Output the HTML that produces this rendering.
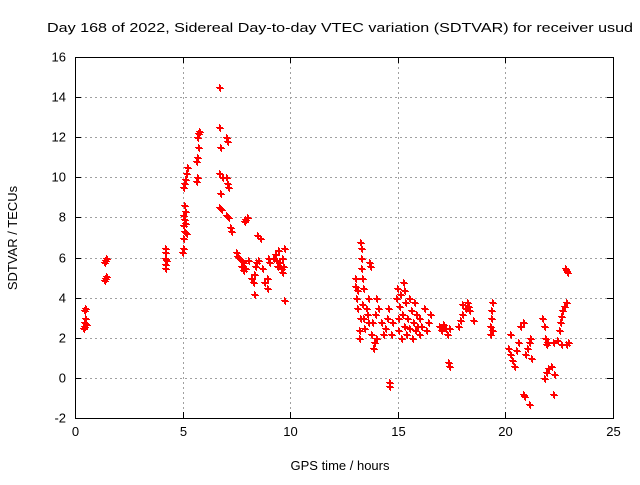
<!DOCTYPE html>
<html><head><meta charset="utf-8"><style>
body{margin:0;background:#fff}
svg text{font-family:"Liberation Sans",sans-serif;font-size:13px;fill:#000}
</style></head><body>
<svg id="chart" width="640" height="480" xmlns="http://www.w3.org/2000/svg">
<rect width="640" height="480" fill="#fff"/>
<text x="47" y="32" textLength="586" lengthAdjust="spacingAndGlyphs">Day 168 of 2022, Sidereal Day-to-day VTEC variation (SDTVAR) for receiver usud</text>
<text x="340" y="470" text-anchor="middle">GPS time / hours</text>
<text transform="translate(17,238) rotate(-90)" text-anchor="middle">SDTVAR / TECUs</text>
<g id="grid"></g><g id="axes"></g><g id="marks"></g>
</svg>
<script>
const xTicks=[0,5,10,15,20,25];
const yTicks=[-2,0,2,4,6,8,10,12,14,16];
const xs=[0.35,0.4,0.4,0.45,0.4,0.45,0.5,1.35,1.4,1.45,1.35,1.4,1.45,4.2,4.2,4.2,4.2,4.2,4.25,
4.95,5.0,5.0,5.05,5.0,5.05,5.0,5.1,5.05,5.0,5.05,5.1,5.15,5.2,5.1,5.15,
5.6,5.65,5.6,5.65,5.7,5.65,5.7,5.75,6.7,6.7,6.75,6.7,6.75,6.7,6.8,6.85,
7.0,7.05,7.0,7.05,7.1,7.0,7.1,7.2,7.25,7.5,7.55,7.6,7.7,7.8,7.7,7.8,7.9,7.9,8.0,7.85,8.05,
8.2,8.25,8.3,8.3,8.35,8.4,8.5,8.45,8.6,8.7,8.8,8.9,8.9,8.95,9.0,
9.2,9.3,9.35,9.4,9.45,9.5,9.55,9.6,9.6,9.7,9.7,9.65,
13.0,13.0,13.05,13.1,13.1,13.2,13.2,13.25,13.25,13.3,13.3,13.3,13.35,13.4,13.35,13.4,13.45,
13.5,13.55,13.6,13.6,13.65,13.7,13.75,13.8,13.85,13.9,13.95,14.0,14.0,14.1,14.2,14.3,14.4,14.5,14.55,14.6,14.6,14.7,14.75,
14.9,14.95,15.0,15.0,15.05,15.1,15.15,15.2,15.25,15.3,15.3,15.35,15.4,15.45,15.5,15.5,15.6,15.65,15.7,15.75,15.8,15.85,15.9,16.0,16.0,16.1,16.2,16.3,16.4,16.5,
16.9,17.0,17.1,17.2,17.3,17.4,17.35,17.4,17.8,17.9,18.0,18.1,18.2,18.25,18.3,18.0,18.5,
19.3,19.3,19.35,19.35,19.4,19.4,
20.1,20.2,20.2,20.3,20.4,20.5,20.6,20.7,20.8,20.8,20.85,20.9,21.0,21.1,21.15,21.1,21.2,
21.7,21.8,21.85,21.9,21.95,21.8,21.9,22.0,22.1,22.2,22.25,22.2,
22.4,22.5,22.55,22.6,22.65,22.7,22.8,22.6,22.8,22.9,22.75,22.8,22.85];
const ys=[2.5,2.6,2.8,3.0,3.4,3.5,2.7,4.9,5.0,5.1,5.8,5.9,6.0,5.5,5.7,6.0,6.3,6.5,5.9,
6.3,6.5,7.0,7.3,7.6,7.9,8.1,8.3,8.6,9.5,9.7,9.9,10.2,10.5,7.7,7.2,
9.8,10.0,10.8,11.0,11.5,12.0,12.2,12.3,14.5,12.5,11.5,10.2,9.2,8.5,8.4,10.0,
12.0,11.8,10.0,9.7,9.5,8.1,8.0,7.5,7.3,6.3,6.1,6.0,5.9,5.8,5.6,5.4,5.5,7.9,8.0,7.8,5.9,
5.0,4.8,5.2,4.2,5.6,5.8,5.9,7.1,7.0,5.5,4.8,4.5,5.0,6.0,5.8,
6.0,6.2,5.9,5.6,6.4,5.8,5.5,5.3,6.0,6.5,3.9,5.6,
5.0,4.6,4.0,4.4,3.5,2.4,2.0,3.0,6.8,6.5,6.0,5.5,5.0,4.5,3.7,3.0,2.5,
3.5,3.2,2.8,4.0,5.8,5.6,2.2,2.8,1.5,1.8,3.2,4.0,2.0,3.5,2.8,2.2,2.5,3.0,3.5,-0.2,-0.4,2.2,2.8,
4.0,4.5,3.0,2.4,3.6,4.2,2.0,3.2,4.8,4.4,2.6,3.8,2.2,3.0,4.0,2.5,3.4,2.0,2.8,3.8,2.4,3.2,2.6,3.0,2.2,2.6,3.5,2.4,2.8,3.2,
2.6,2.4,2.7,2.5,2.2,2.5,0.8,0.6,2.6,2.9,3.2,3.5,3.8,3.6,3.4,3.7,2.9,
2.2,2.6,3.0,3.4,3.8,2.4,
1.5,1.2,2.2,0.9,0.6,1.4,1.8,2.6,2.8,-0.8,-0.9,1.2,1.5,1.8,2.0,-1.3,1.0,
3.0,2.6,2.0,1.7,1.8,0.0,0.3,0.5,0.6,-0.8,0.2,1.8,
1.9,2.4,2.8,3.1,3.4,3.6,3.8,1.7,1.7,1.8,5.5,5.4,5.3];
const L=75,R=613,T=57,B=418,NS='http://www.w3.org/2000/svg';
const sx=v=>L+(v-0)/(25-0)*(R-L);
const sy=v=>B-(v+2)/(16+2)*(B-T);
function mk(tag,at,parent){const e=document.createElementNS(NS,tag);for(const k in at)e.setAttribute(k,at[k]);document.getElementById(parent).appendChild(e);return e;}
xTicks.forEach(t=>{
  const x=Math.round(sx(t))+0.5;
  if(t>0&&t<25){const g=mk('line',{x1:x,x2:x,y1:T,y2:B,stroke:'#a0a0a0','stroke-dasharray':'2,3'},'grid');
  
  }
  mk('line',{x1:x,x2:x,y1:B,y2:B-6,stroke:'#000'},'axes');
  mk('line',{x1:x,x2:x,y1:T,y2:T+6,stroke:'#000'},'axes');
  const tx=mk('text',{x:x,y:B+18,'text-anchor':'middle'},'axes');tx.textContent=t;
  
  
});
yTicks.forEach(t=>{
  const y=Math.round(sy(t))+0.5;
  if(t>-2&&t<16){const g=mk('line',{x1:L,x2:R,y1:y,y2:y,stroke:'#a0a0a0','stroke-dasharray':'2,3'},'grid');
  
  }
  mk('line',{x1:L,x2:L+6,y1:y,y2:y,stroke:'#000'},'axes');
  mk('line',{x1:R,x2:R-6,y1:y,y2:y,stroke:'#000'},'axes');
  const tx=mk('text',{x:L-9,y:y+4,'text-anchor':'end'},'axes');tx.textContent=t;
  
  
});
const fr=mk('rect',{x:L+0.5,y:T+0.5,width:R-L,height:B-T,fill:'none',stroke:'#000'},'axes');


xs.forEach((v,i)=>{
  const x=Math.round(sx(v))+0.5,y=Math.round(sy(ys[i]))+0.5;
  const p=mk('path',{d:`M${x-3.5},${y}H${x+3.5}M${x},${y-3.5}V${y+3.5}M${x-2.5},${y+1}H${x+4.5}M${x+1},${y-2.5}V${y+4.5}`,stroke:'#f00','stroke-width':1},'marks');
  
  
});
</script>
</body></html>
